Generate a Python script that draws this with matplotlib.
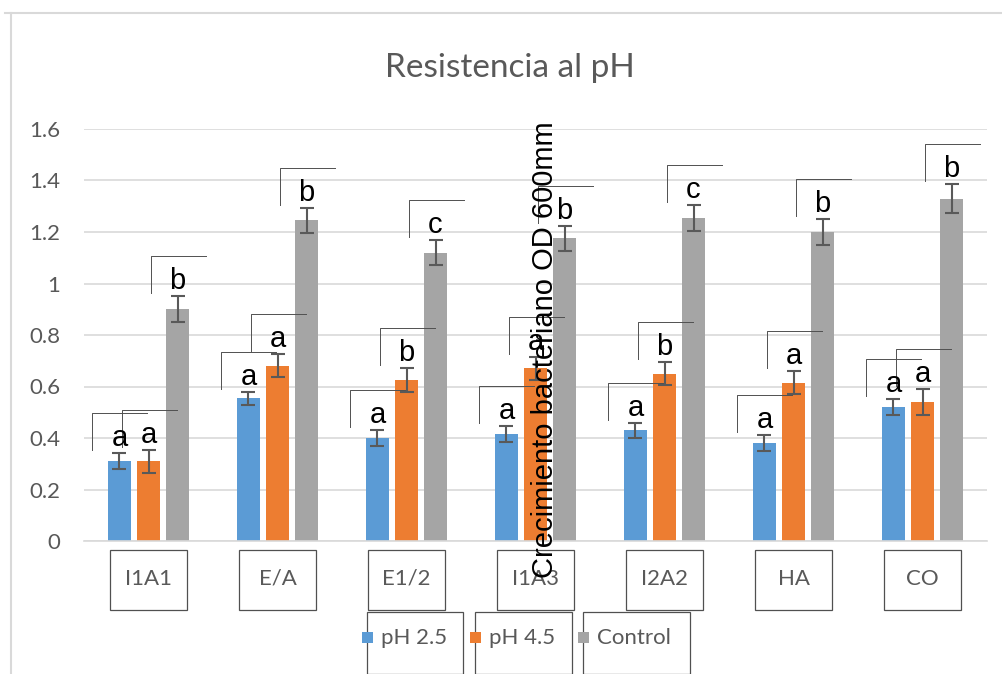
import matplotlib.pyplot as plt
from matplotlib.patches import Rectangle
from matplotlib.lines import Line2D
import numpy as np

cats = ["I1A1", "E/A", "E1/2", "I1A3", "I2A2", "HA", "CO"]
series = ["pH 2.5", "pH 4.5", "Control"]
ph25 = [0.31, 0.555, 0.40, 0.415, 0.43, 0.38, 0.52]
ph45 = [0.31, 0.68, 0.625, 0.67, 0.65, 0.615, 0.54]
control = [0.90, 1.245, 1.12, 1.175, 1.255, 1.20, 1.33]
err25 = [0.03, 0.025, 0.03, 0.03, 0.03, 0.03, 0.03]
err45 = [0.045, 0.045, 0.045, 0.045, 0.045, 0.045, 0.05]
errc = [0.05, 0.05, 0.05, 0.05, 0.05, 0.05, 0.055]
let25 = ["a", "a", "a", "a", "a", "a", "a"]
let45 = ["a", "a", "b", "a", "b", "a", "a"]
letc = ["b", "b", "c", "b", "c", "b", "b"]

colors = ["#5b9bd5", "#ed7d31", "#a5a5a5"]
grey = "#595959"
W, H = 1002, 674

fig = plt.figure(figsize=(W / 100, H / 100), dpi=100)
ax = fig.add_axes([84 / W, 1 - 541 / H, 903 / W, 412 / H])

x = np.arange(len(cats))
off = 0.225
bw = 0.178
vals = [ph25, ph45, control]
errs = [err25, err45, errc]
lets = [let25, let45, letc]
for i in range(3):
    ax.bar(x + (i - 1) * off, vals[i], bw, color=colors[i], zorder=2,
           yerr=errs[i], error_kw=dict(ecolor="#595959", elinewidth=1.5, capsize=5, capthick=1.5))

ax.set_xlim(-0.5, 6.5)
ax.set_ylim(0, 1.6)
ax.set_yticks(np.arange(0, 1.61, 0.2))
ax.set_yticklabels(["0", "0.2", "0.4", "0.6", "0.8", "1", "1.2", "1.4", "1.6"])
ax.yaxis.grid(True, color="#d9d9d9", lw=1.2, zorder=0)
ax.set_axisbelow(True)
for s in ["top", "right", "left"]:
    ax.spines[s].set_visible(False)
ax.spines["bottom"].set_color("#d9d9d9")
ax.spines["bottom"].set_linewidth(1.2)
ax.tick_params(axis="y", length=0, pad=17, labelsize=16, labelcolor=grey)
ax.tick_params(axis="x", length=0, pad=20, labelsize=16, labelcolor=grey)
ax.set_xticks(x)
ax.set_xticklabels(cats)
for t in ax.get_xticklabels() + ax.get_yticklabels():
    t.set_family("Lato")

# letters with bracket-like leftovers of text boxes
pxx, pxy = 1 / 129, 1.6 / 412
for i in range(3):
    for j in range(len(cats)):
        cx = x[j] + (i - 1) * off
        top = vals[i][j] + errs[i][j]
        ax.text(cx, top + 1 * pxy, lets[i][j], ha="center", va="bottom",
                fontsize=21, family="Liberation Sans", color="black", zorder=4)
        bx0 = cx - 27 * pxx
        by1 = top + 40 * pxy
        by0 = top + 3 * pxy
        ax.add_line(Line2D([bx0, bx0, cx + 28 * pxx], [by0, by1, by1], color="#505050", lw=0.7, zorder=3))

# boxes around category labels
tr = ax.get_xaxis_transform()
for j in range(len(cats)):
    ax.add_patch(Rectangle((x[j] - 0.3, -0.168), 0.6, 0.146, transform=tr, fill=False,
                           edgecolor="#505050", lw=0.9, clip_on=False))

fig.text(510 / W, 1 - 68 / H, "Resistencia al pH", ha="center", va="center",
         fontsize=24, color=grey, family="Lato")
fig.text(545 / W, 1 - 350 / H, "Crecimiento bacteriano OD 600mm", rotation=90,
         ha="center", va="center", fontsize=21, color="black", family="Liberation Sans")

# chart frame remains
fig.add_artist(Line2D([5 / W, 1], [1 - 13 / H, 1 - 13 / H], color="#d9d9d9", lw=1.5))
fig.add_artist(Line2D([11 / W, 11 / W], [0, 1 - 13 / H], color="#d9d9d9", lw=1.5))

# legend entries, each in its own box
boxes = [(367, 463), (475, 572), (583, 690)]
for k, (bxl, bxr) in enumerate(boxes):
    fig.add_artist(Rectangle((bxl / W, 0), (bxr - bxl) / W, 62 / H, fill=False,
                             edgecolor="#505050", lw=0.9, transform=fig.transFigure))
    fig.add_artist(Rectangle(((bxl - 5) / W, 1 - 643 / H), 11 / W, 11 / H,
                             facecolor=colors[k], edgecolor="none", transform=fig.transFigure))
    fig.text((bxl + 14) / W, 1 - 638 / H, series[k], ha="left", va="center",
             fontsize=16, color=grey, family="Lato")

fig.savefig("out.png", dpi=100)
